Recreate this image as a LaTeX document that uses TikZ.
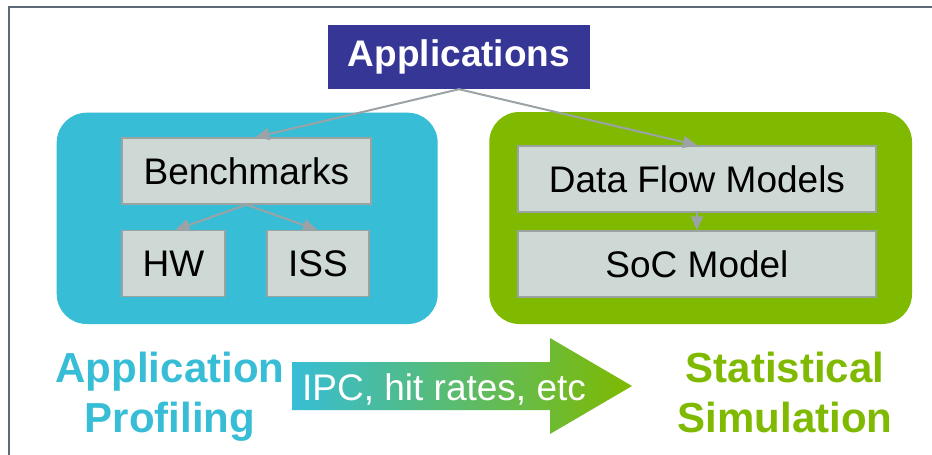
\documentclass[tikz,border=0pt]{standalone}
\usepackage{fontspec}
\setmainfont{Liberation Sans}
\usetikzlibrary{arrows.meta}
\definecolor{appblue}{HTML}{363696}
\definecolor{cyanc}{HTML}{37BDD5}
\definecolor{greenc}{HTML}{7FBA00}
\definecolor{boxfill}{HTML}{CED8D4}
\definecolor{boxline}{HTML}{9AA2A2}
\definecolor{conn}{HTML}{9BA3A6}
\definecolor{framec}{HTML}{5E6A77}
\tikzset{
  inner/.style={draw=boxline, line width=1.5pt, fill=boxfill, inner sep=0pt,
    font=\fontsize{37}{40}\selectfont, text=black},
  group/.style={rounded corners=30pt},
  conarrow/.style={draw=conn, line width=2pt, -{Triangle[length=14pt,width=12pt]}},
  bigtext/.style={font=\fontsize{42}{50}\selectfont\bfseries, anchor=base},
}
\begin{document}
\begin{tikzpicture}[x=1pt,y=-1pt]
\useasboundingbox (0,0) rectangle (932,455);
\fill[white] (0,0) rectangle (932,455);
\draw[framec, line width=1.5pt] (9,460) -- (9,7) -- (940,7);

% group backgrounds
\fill[cyanc, group] (56.7,112.7) rectangle (437.7,324);
\fill[greenc, group] (489.3,112) rectangle (912,324);

% nodes
\node[fill=appblue, inner sep=0pt, minimum width=262pt, minimum height=64pt,
      text=white, font=\fontsize{37}{40}\selectfont\bfseries] (apps) at (459,57) {Applications};
\node[inner, minimum width=249pt, minimum height=66pt] (bench) at (246.4,171) {Benchmarks};
\node[inner, minimum width=103pt, minimum height=66pt] (hw) at (173.5,263.5) {HW};
\node[inner, minimum width=102pt, minimum height=66pt] (iss) at (318,263.5) {ISS};
\node[inner, minimum width=358pt, minimum height=66pt] (dfm) at (697,179) {Data Flow Models};
\node[inner, minimum width=358pt, minimum height=66pt] (soc) at (697,264) {SoC Model};

% connectors
\draw[conarrow] (apps.south) -- ([xshift=9pt]bench.north);
\draw[conarrow] (apps.south) -- (dfm.north);
\draw[conarrow] (bench.south) -- ([xshift=2pt]hw.north);
\draw[conarrow] (bench.south) -- ([xshift=-1pt]iss.north);
\draw[conarrow] (dfm.south) -- (soc.north);

% big gradient arrow
\shade[left color=cyanc, right color=greenc]
  (292,362) -- (550,362) -- (550,338) -- (632,386) -- (550,434) -- (550,410) -- (292,410) -- cycle;
\node[text=white, font=\fontsize{37}{40}\selectfont, anchor=base] (ipc) at (444,400) {IPC, hit rates, etc};

% labels
\node[bigtext, text=cyanc] (prof1) at (170,382) {Application};
\node[bigtext, text=cyanc] (prof2) at (170,432) {Profiling};
\node[bigtext, text=greenc] (stat1) at (785,382) {Statistical};
\node[bigtext, text=greenc] (stat2) at (785,432) {Simulation};
\end{tikzpicture}
\end{document}
